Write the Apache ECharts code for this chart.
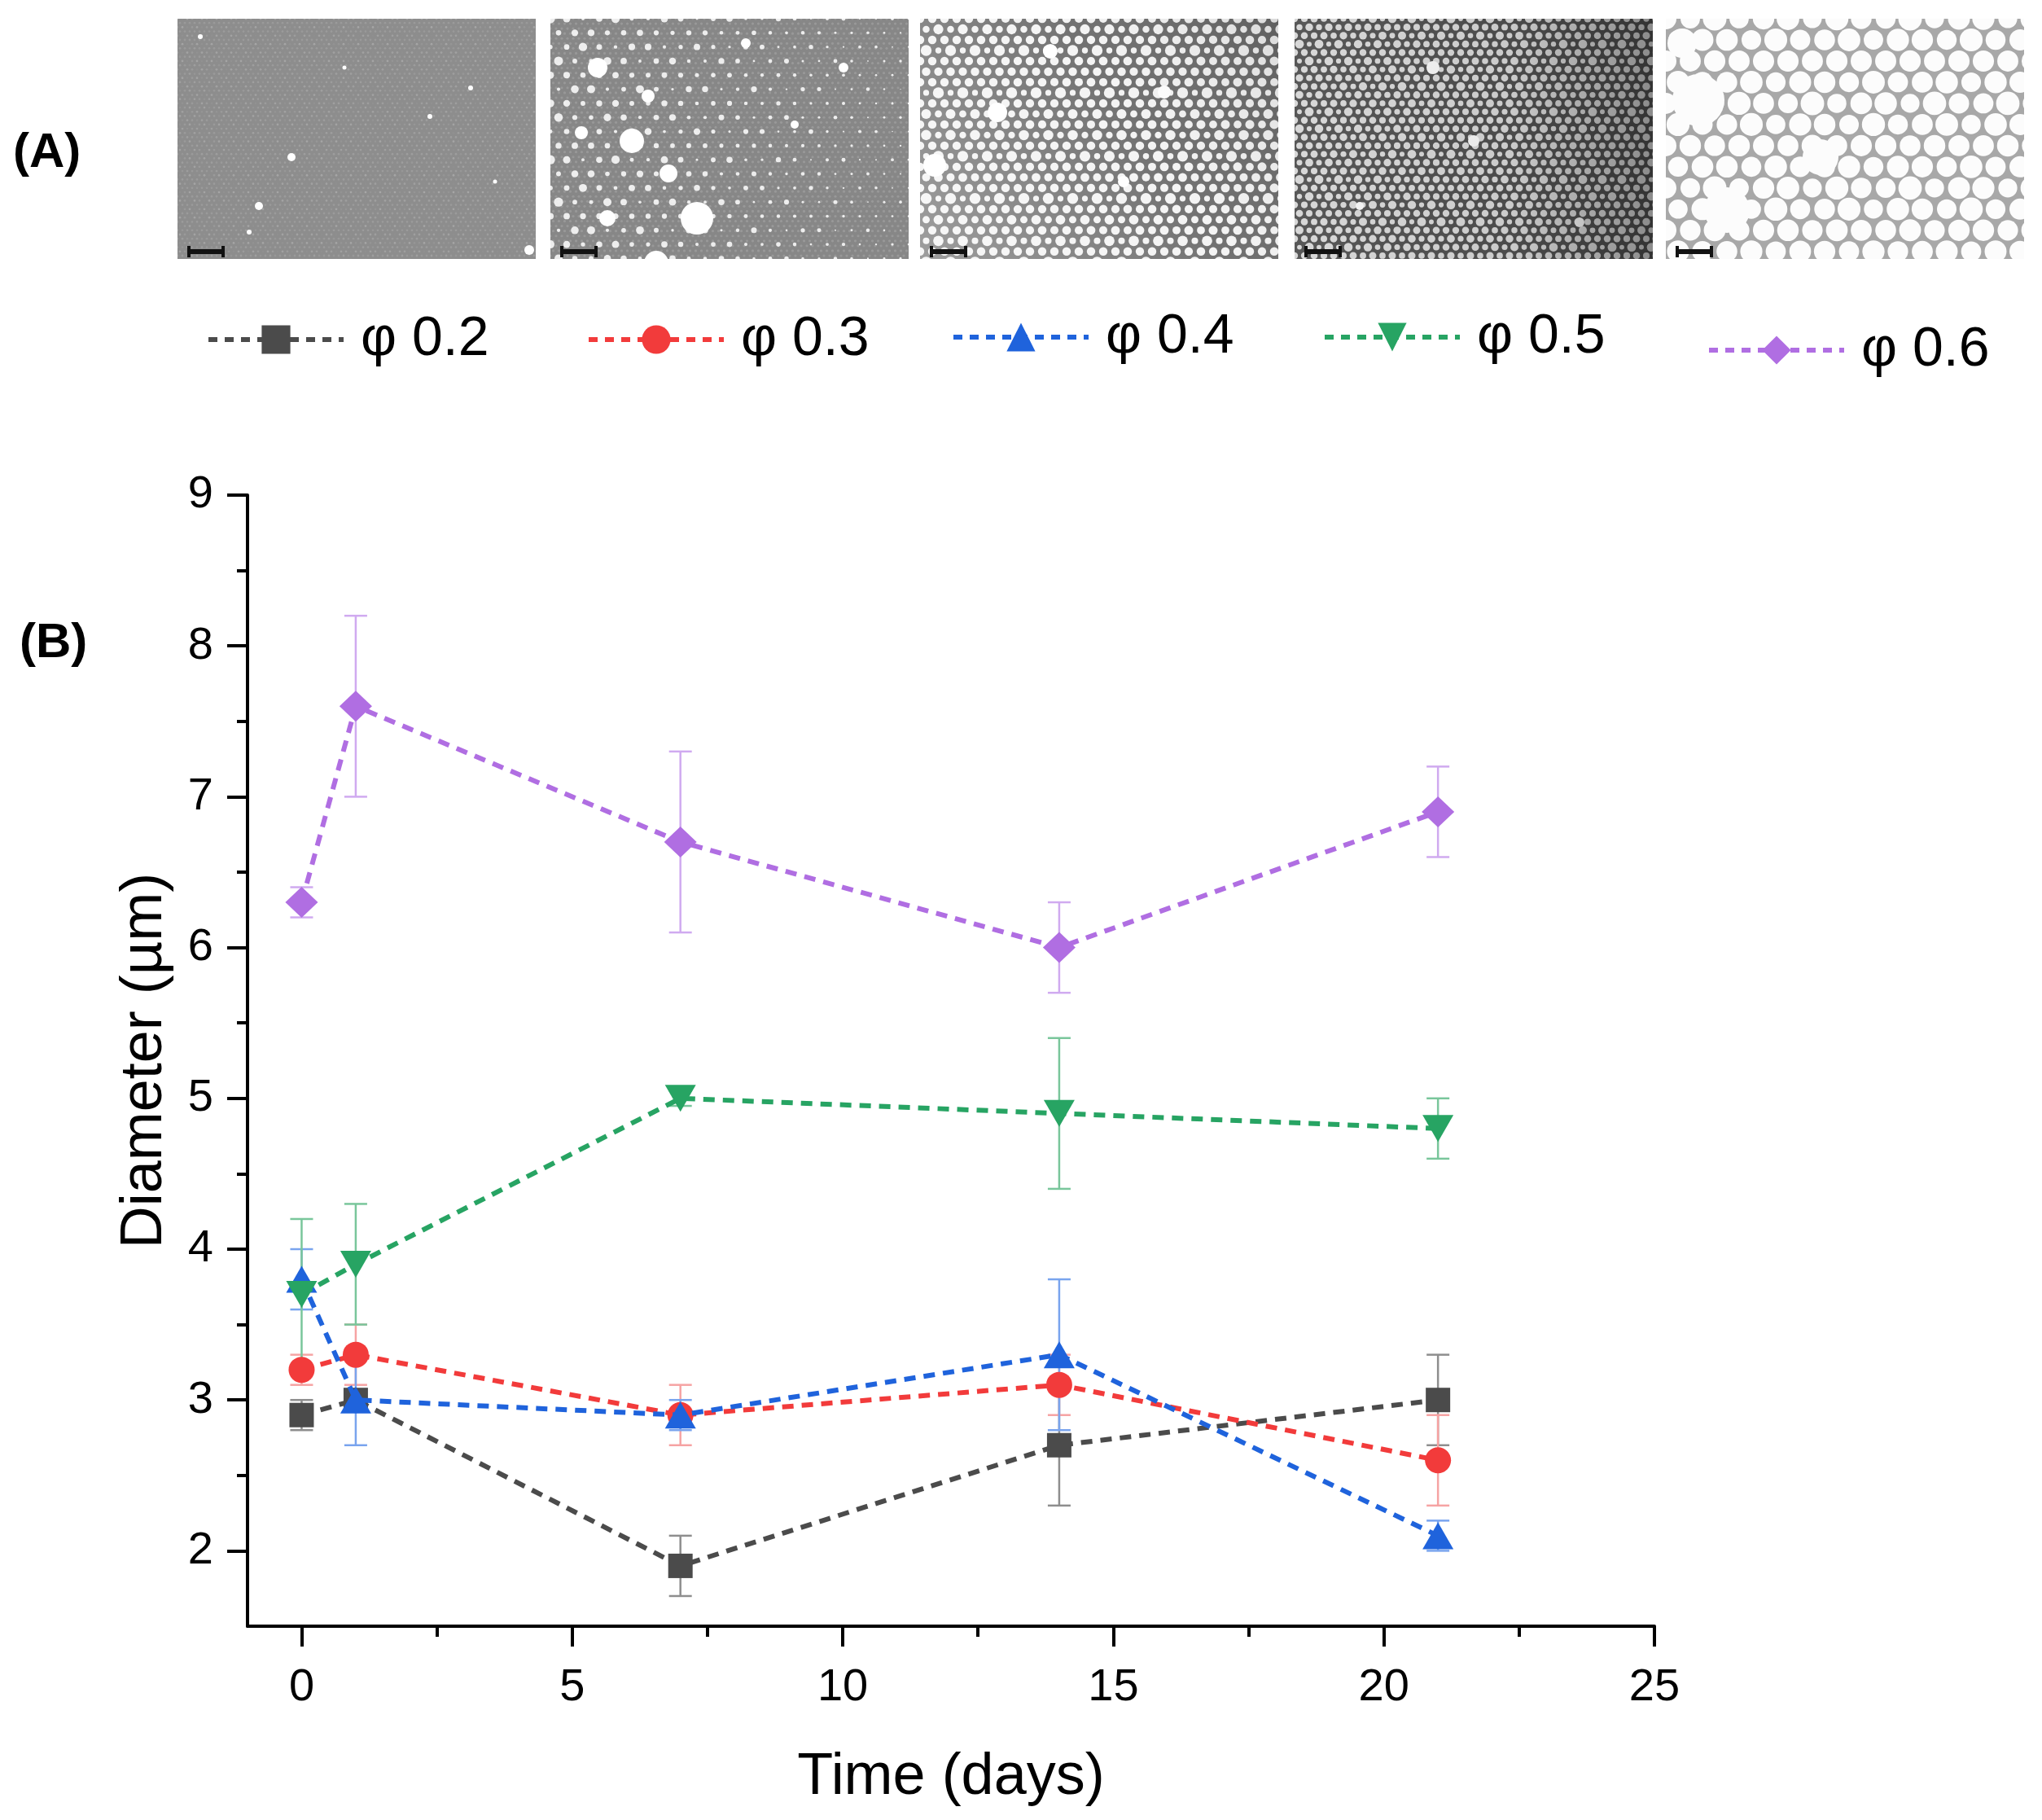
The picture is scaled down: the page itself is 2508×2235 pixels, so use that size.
<!DOCTYPE html>
<html>
<head>
<meta charset="utf-8">
<script src="https://cdn.jsdelivr.net/npm/echarts@6/dist/echarts.min.js"></script>
<style>
html,body{margin:0;padding:0;background:#fff;}
#chart{width:2508px;height:2235px;}
</style>
</head>
<body>
<div id="chart"></div>
<script>
// ---------------- data ----------------
const days = [0, 1, 7, 14, 21];
const seriesNames = ['φ 0.2', 'φ 0.3', 'φ 0.4', 'φ 0.5', 'φ 0.6'];
const phi02 = [2.9, 3.0, 1.9, 2.7, 3.0];
const phi02Err = [0.1, 0.05, 0.2, 0.4, 0.3];
const phi03 = [3.2, 3.3, 2.9, 3.1, 2.6];
const phi03Err = [0.1, 0.2, 0.2, 0.2, 0.3];
const phi04 = [3.8, 3.0, 2.9, 3.3, 2.1];
const phi04Err = [0.2, 0.3, 0.1, 0.5, 0.1];
const phi05 = [3.7, 3.9, 5.0, 4.9, 4.8];
const phi05Err = [0.5, 0.4, 0.05, 0.5, 0.2];
const phi06 = [6.3, 7.6, 6.7, 6.0, 6.9];
const phi06Err = [0.1, 0.6, 0.6, 0.3, 0.3];
const xMajorTicks = [0, 5, 10, 15, 20, 25];
const xMinorTicks = [2.5, 7.5, 12.5, 17.5, 22.5];
const yMajorTicks = [2, 3, 4, 5, 6, 7, 8, 9];
const yMinorTicks = [2.5, 3.5, 4.5, 5.5, 6.5, 7.5, 8.5];

const values = [phi02, phi03, phi04, phi05, phi06];
const errors = [phi02Err, phi03Err, phi04Err, phi05Err, phi06Err];

// ---------------- styles ----------------
const FONT = '"Liberation Sans", Arial, sans-serif';
const colors = ['#4b4b4b', '#f23b3b', '#1f63dc', '#27a463', '#b06ee2'];
const errColors = ['#8e8e8e', '#f6a3a3', '#79a4ee', '#79c69b', '#d0aaf0'];
const symbols = ['rect', 'circle', 'triangle', 'triangle', 'diamond'];
const symbolRot = [0, 0, 0, 180, 0];
const symbolSizes = [30, 32, [38, 33], [38, 33], [40, 38]];
const legendLeft = [253, 720, 1168, 1624, 2096];
const legendTop = [383, 383, 380, 380, 396];

// ---------------- micrograph panels (decorative images) ----------------
function hexGrid(g, w, h, step, fn) {
  let row = 0;
  for (let y = 0; y <= h + step; y += step * 0.866, row++) {
    const off = (row % 2) ? step / 2 : 0;
    for (let x = -step; x <= w + step; x += step) fn(x + off, y);
  }
}
function circle(g, x, y, r) { g.beginPath(); g.arc(x, y, Math.max(r, 0.3), 0, Math.PI * 2); g.fill(); }
function scaleBar(g) {
  g.fillStyle = '#111';
  g.fillRect(12, 283, 46, 6);
  g.fillRect(12, 279, 4, 14);
  g.fillRect(54, 279, 4, 14);
}
function makePanel(kind) {
  const W = 440, H = 295;
  const c = document.createElement('canvas'); c.width = W; c.height = H;
  const g = c.getContext('2d');
  if (kind === 0) {
    g.fillStyle = '#8d8d8d'; g.fillRect(0, 0, W, H);
    hexGrid(g, W, H, 6, (x, y) => {
      g.fillStyle = 'rgba(255,255,255,' + (0.12 + 0.1 * Math.sin(x * 0.7) * Math.cos(y * 0.9)) + ')';
      circle(g, x, y, 1.4);
    });
    g.fillStyle = '#fff';
    [[28, 22, 3], [140, 170, 5], [100, 230, 5], [310, 120, 3], [360, 85, 3], [432, 284, 6], [88, 262, 3], [205, 60, 2.5], [390, 200, 2.5]].forEach(p => circle(g, p[0], p[1], p[2]));
  } else if (kind === 1) {
    g.fillStyle = '#878787'; g.fillRect(0, 0, W, H);
    hexGrid(g, W, H, 7, (x, y) => {
      g.fillStyle = 'rgba(255,255,255,0.15)'; circle(g, x, y, 1.6);
    });
    hexGrid(g, W, H, 20, (x, y) => {
      const k = (1 - x / W * 0.7);
      const r = k * (2 + 4 * (0.5 + 0.5 * Math.sin(x * 0.09 + 1) * Math.cos(y * 0.11)));
      g.fillStyle = 'rgba(255,255,255,0.85)'; circle(g, x, y, r);
    });
    g.fillStyle = '#fff';
    [[58, 60, 12], [100, 150, 15], [180, 245, 20], [145, 190, 11], [120, 95, 8], [38, 140, 8], [70, 245, 10], [240, 30, 6], [300, 130, 5], [360, 60, 6], [130, 300, 15]].forEach(p => circle(g, p[0], p[1], p[2]));
  } else if (kind === 2) {
    g.fillStyle = '#6a6a6a'; g.fillRect(0, 0, W, H);
    hexGrid(g, W, H, 15, (x, y) => {
      g.fillStyle = '#f3f3f3';
      circle(g, x, y, 5.2 + 1.6 * Math.sin(x * 0.21) * Math.cos(y * 0.17));
    });
    g.fillStyle = '#fff';
    [[95, 115, 12], [18, 180, 14], [160, 40, 9], [300, 90, 8], [250, 200, 7]].forEach(p => circle(g, p[0], p[1], p[2]));
    const gr = g.createLinearGradient(0, H, W, 0);
    gr.addColorStop(0, 'rgba(255,255,255,0.35)'); gr.addColorStop(0.6, 'rgba(255,255,255,0.05)'); gr.addColorStop(1, 'rgba(0,0,0,0.1)');
    g.fillStyle = gr; g.fillRect(0, 0, W, H);
  } else if (kind === 3) {
    g.fillStyle = '#4f4f4f'; g.fillRect(0, 0, W, H);
    hexGrid(g, W, H, 12, (x, y) => {
      g.fillStyle = '#d6d6d6';
      circle(g, x, y, 4.2 + 1.3 * Math.sin(x * 0.27) * Math.cos(y * 0.19));
    });
    g.fillStyle = '#f5f5f5';
    [[170, 60, 8], [220, 150, 7], [350, 250, 6], [80, 230, 5]].forEach(p => circle(g, p[0], p[1], p[2]));
    const gr = g.createLinearGradient(0, 0, W, 0);
    gr.addColorStop(0, 'rgba(255,255,255,0.05)'); gr.addColorStop(0.6, 'rgba(0,0,0,0.05)'); gr.addColorStop(1, 'rgba(0,0,0,0.35)');
    g.fillStyle = gr; g.fillRect(0, 0, W, H);
  } else {
    g.fillStyle = '#a8a8a8'; g.fillRect(0, 0, W, H);
    hexGrid(g, W, H, 30, (x, y) => {
      g.fillStyle = '#fcfcfc';
      circle(g, x, y, 13 + 1.5 * Math.sin(x * 0.13) * Math.cos(y * 0.15));
    });
    g.fillStyle = '#fcfcfc';
    [[40, 100, 32], [75, 235, 28], [190, 170, 22], [20, 30, 18]].forEach(p => circle(g, p[0], p[1], p[2]));
  }
  scaleBar(g);
  return c;
}
const panelLeft = [218, 676, 1130, 1590, 2046];
const panelGraphics = panelLeft.map((x, i) => ({
  type: 'image', left: x, top: 23,
  style: { image: makePanel(i), width: 440, height: 295 }
}));

// ---------------- chart ----------------
function errRender(params, api) {
  const x = api.value(0), lo = api.value(1), hi = api.value(2);
  const pLo = api.coord([x, lo]);
  const pHi = api.coord([x, hi]);
  const w = 14;
  const style = { stroke: api.visual('color'), lineWidth: 2.5 };
  return {
    type: 'group',
    children: [
      { type: 'line', shape: { x1: pLo[0], y1: pLo[1], x2: pHi[0], y2: pHi[1] }, style: style },
      { type: 'line', shape: { x1: pLo[0] - w, y1: pLo[1], x2: pLo[0] + w, y2: pLo[1] }, style: style },
      { type: 'line', shape: { x1: pHi[0] - w, y1: pHi[1], x2: pHi[0] + w, y2: pHi[1] }, style: style }
    ]
  };
}

const series = [];
seriesNames.forEach((name, i) => {
  series.push({
    type: 'custom',
    name: name + ' err',
    renderItem: errRender,
    itemStyle: { color: errColors[i] },
    data: days.map((d, j) => [d, values[i][j] - errors[i][j], values[i][j] + errors[i][j]]),
    z: 1,
    silent: true
  });
});
seriesNames.forEach((name, i) => {
  series.push({
    type: 'line',
    name: name,
    data: days.map((d, j) => [d, values[i][j]]),
    symbol: symbols[i],
    symbolSize: symbolSizes[i],
    symbolRotate: symbolRot[i],
    itemStyle: { color: colors[i] },
    lineStyle: { color: colors[i], width: 6, type: [14, 10] },
    z: 2 + i
  });
});

const axisLineStyle = { color: '#000', width: 4 };
const option = {
  animation: false,
  backgroundColor: '#fff',
  grid: { left: 304, top: 608, right: 476, bottom: 238, containLabel: false },
  legend: seriesNames.map((n, i) => ({
    data: [n],
    left: legendLeft[i],
    top: legendTop[i],
    padding: 0,
    itemWidth: 166,
    itemHeight: 44,
    selectedMode: false,
    lineStyle: { width: 6, type: [11, 9] },
    textStyle: { fontSize: 68, fontFamily: FONT, color: '#000', padding: [0, 0, 0, 16] }
  })),
  xAxis: [
    {
      type: 'value', min: -1, max: 25, position: 'bottom',
      axisLine: { show: true, onZero: false, lineStyle: axisLineStyle },
      axisTick: { show: true, customValues: xMajorTicks, length: 25, lineStyle: { color: '#000', width: 4 } },
      axisLabel: { customValues: xMajorTicks, fontSize: 56, fontFamily: FONT, color: '#000', margin: 48 },
      splitLine: { show: false },
      name: 'Time (days)', nameLocation: 'middle', nameGap: 150,
      nameTextStyle: { fontSize: 72, fontFamily: FONT, color: '#000' }
    },
    {
      type: 'value', min: -1, max: 25, position: 'bottom',
      axisLine: { show: false, onZero: false },
      axisTick: { show: true, customValues: xMinorTicks, length: 13, lineStyle: { color: '#000', width: 4 } },
      axisLabel: { show: false },
      splitLine: { show: false }
    }
  ],
  yAxis: [
    {
      type: 'value', min: 1.5, max: 9, position: 'left',
      axisLine: { show: true, onZero: false, lineStyle: axisLineStyle },
      axisTick: { show: true, customValues: yMajorTicks, length: 25, lineStyle: { color: '#000', width: 4 } },
      axisLabel: { customValues: yMajorTicks, fontSize: 56, fontFamily: FONT, color: '#000', margin: 42 },
      splitLine: { show: false },
      name: 'Diameter (µm)', nameLocation: 'middle', nameGap: 90, nameRotate: 90,
      nameTextStyle: { fontSize: 72, fontFamily: FONT, color: '#000' }
    },
    {
      type: 'value', min: 1.5, max: 9, position: 'left',
      axisLine: { show: false, onZero: false },
      axisTick: { show: true, customValues: yMinorTicks, length: 13, lineStyle: { color: '#000', width: 4 } },
      axisLabel: { show: false },
      splitLine: { show: false }
    }
  ],
  graphic: panelGraphics.concat([
    { type: 'text', left: 16, top: 158, style: { text: '(A)', font: 'bold 60px ' + FONT, fill: '#000' } },
    { type: 'text', left: 24, top: 760, style: { text: '(B)', font: 'bold 60px ' + FONT, fill: '#000' } }
  ]),
  series: series
};

const chart = echarts.init(document.getElementById('chart'), null, { renderer: 'canvas' });
chart.setOption(option);
</script>
</body>
</html>
